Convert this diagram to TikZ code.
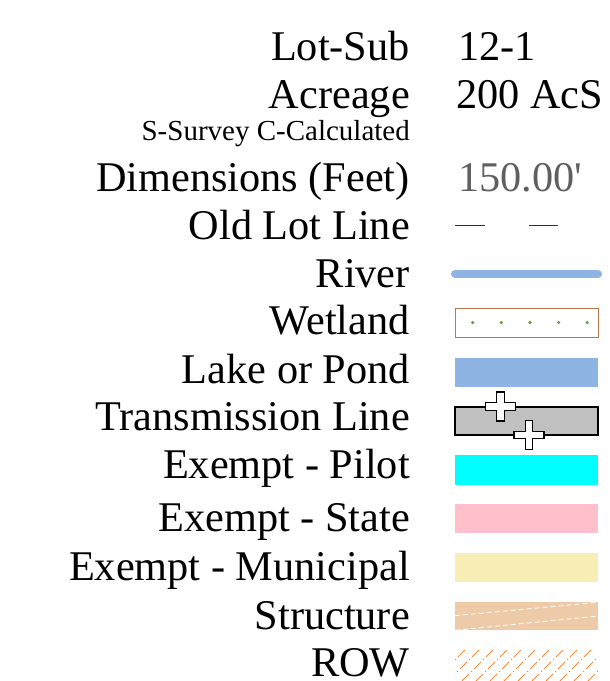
\documentclass[tikz,border=0pt]{standalone}
\usepackage{fontspec}
\setmainfont{Liberation Serif}
\definecolor{riverblue}{HTML}{8DB4E2}
\definecolor{wetbrown}{HTML}{B87A4B}
\definecolor{wetgreen}{HTML}{6E9E3C}
\definecolor{transgrey}{HTML}{C0C0C0}
\definecolor{pilotcyan}{HTML}{00FFFF}
\definecolor{pinkstate}{HTML}{FFC0CB}
\definecolor{muniyellow}{HTML}{F8EDB4}
\definecolor{structan}{HTML}{EDCBA8}
\definecolor{roworange}{HTML}{F08A3C}
\definecolor{dimgrey}{HTML}{5F5F5F}
\definecolor{oldline}{HTML}{303030}
\tikzset{
  lbl/.style={anchor=base east,inner sep=0pt,font=\fontsize{42.3}{48}\selectfont},
  val/.style={anchor=base west,inner sep=0pt,font=\fontsize{42.3}{48}\selectfont},
  plusmark/.pic={\draw[fill=white,line width=1.2pt]
    (-15,-3.7) -- (-3.7,-3.7) -- (-3.7,-14.5) -- (3.7,-14.5) -- (3.7,-3.7) -- (15,-3.7)
    -- (15,3.7) -- (3.7,3.7) -- (3.7,14.5) -- (-3.7,14.5) -- (-3.7,3.7) -- (-15,3.7) -- cycle;}
}
\begin{document}
\begin{tikzpicture}[x=1pt,y=-1pt]
\useasboundingbox (0,0) rectangle (610,681);
% labels
\node[lbl] (lotsub) at (410,60) {Lot-Sub};
\node[val] (lotsubv) at (458,60) {12-1};
\node[lbl] (acre) at (410,108) {Acreage};
\node[val] (acrev) at (456,108) {200 AcS};
\node[lbl,font=\fontsize{29}{34}\selectfont] (survey) at (410,140) {S-Survey C-Calculated};
\node[lbl] (dim) at (410,191) {Dimensions (Feet)};
\node[val,text=dimgrey] (dimv) at (458,191) {150.00\textquotesingle};
\node[lbl] (old) at (410,239) {Old Lot Line};
\node[lbl] (river) at (410,287) {River};
\node[lbl] (wet) at (410,334) {Wetland};
\node[lbl] (lake) at (410,383) {Lake or Pond};
\node[lbl] (trans) at (410,430) {Transmission Line};
\node[lbl] (pilot) at (410,478) {Exempt - Pilot};
\node[lbl] (state) at (410,531) {Exempt - State};
\node[lbl] (muni) at (410,580) {Exempt - Municipal};
\node[lbl] (struct) at (410,629) {Structure};
\node[lbl] (row) at (410,676) {ROW};
% old lot line
\draw[oldline,line width=1pt] (455,225) -- (485,225) (529,225) -- (558,225);
% river
\draw[riverblue,line width=8pt,line cap=round] (455,274) -- (598,274);
% wetland
\draw[wetbrown,line width=1pt] (455,308.5) rectangle (598,337);
\foreach \x in {472.7,501.3,530,558.6,587.2}
  \fill[wetgreen] (\x,322.5) circle (1.8pt);
% lake
\fill[riverblue] (455,357.5) rectangle (598,386.5);
% transmission
\draw[fill=transgrey,line width=1.2pt] (455,407) rectangle (598,435);
\pic at (500.5,406.5) {plusmark};
\pic at (529,435) {plusmark};
% exempt
\fill[pilotcyan] (455,455) rectangle (598,484.5);
\fill[pinkstate] (455,503.5) rectangle (598,533);
\fill[muniyellow] (455,552.5) rectangle (598,582);
% structure
\fill[structan] (455,601.5) rectangle (598,630);
\draw[white,line width=0.8pt,dash pattern=on 5pt off 3pt] (455,615.7) -- (598,602.3) (455,630.3) -- (598,616);
% ROW
\begin{scope}
\clip (455,650) rectangle (598,681);
\foreach \x in {420,434,...,610}
  \draw[roworange,line width=1pt,dash pattern=on 10pt off 3pt on 1pt off 3pt] (\x,681) -- ++(31,-31);
\end{scope}
\end{tikzpicture}
\end{document}
